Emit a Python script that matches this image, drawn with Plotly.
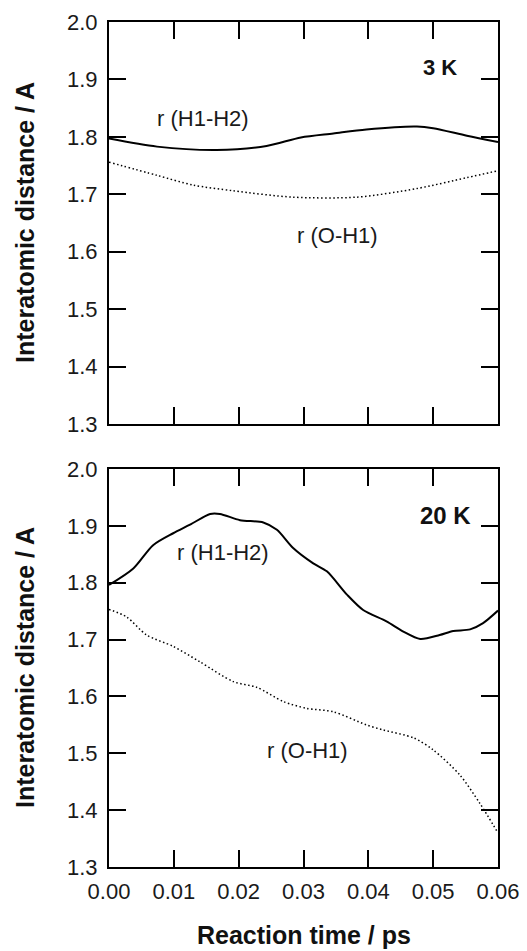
import plotly.graph_objects as go

# ---- data ----
t_hh_3K = [0.0, 0.0074, 0.0166, 0.0243, 0.0296, 0.0346, 0.0397, 0.0475, 0.050, 0.0552, 0.060]
r_hh_3K = [1.797, 1.783, 1.777, 1.784, 1.799, 1.806, 1.813, 1.818, 1.815, 1.802, 1.791]

t_oh_3K = [0.0, 0.0074, 0.013, 0.0192, 0.0284, 0.0382, 0.0475, 0.0552, 0.060]
r_oh_3K = [1.756, 1.733, 1.716, 1.706, 1.695, 1.695, 1.710, 1.729, 1.741]

t_hh_20K = [0.0, 0.00375, 0.0068, 0.0099, 0.0125, 0.0156, 0.0171, 0.0202, 0.0238, 0.0259,
            0.0284, 0.0315, 0.0336, 0.0367, 0.0392, 0.0428, 0.0454, 0.048, 0.051, 0.0531,
            0.0557, 0.0577, 0.060]
r_hh_20K = [1.796, 1.825, 1.866, 1.887, 1.902, 1.921, 1.921, 1.910, 1.906, 1.893,
            1.861, 1.834, 1.820, 1.779, 1.752, 1.732, 1.714, 1.701, 1.708, 1.715,
            1.718, 1.729, 1.751]

t_oh_20K = [0.0, 0.0027, 0.0058, 0.0099, 0.014, 0.0192, 0.0228, 0.0269, 0.0305, 0.0346,
            0.0397, 0.0423, 0.047, 0.050, 0.0541, 0.0572, 0.060]
r_oh_20K = [1.753, 1.740, 1.708, 1.688, 1.661, 1.626, 1.616, 1.591, 1.579, 1.573,
            1.550, 1.541, 1.527, 1.506, 1.462, 1.412, 1.360]

x_ticks = [0.0, 0.01, 0.02, 0.03, 0.04, 0.05, 0.06]
x_ticklabels = ["0.00", "0.01", "0.02", "0.03", "0.04", "0.05", "0.06"]
y_ticks = [1.3, 1.4, 1.5, 1.6, 1.7, 1.8, 1.9, 2.0]
y_ticklabels = ["1.3", "1.4", "1.5", "1.6", "1.7", "1.8", "1.9", "2.0"]

W, H = 527, 951
FONT = "Liberation Sans, Arial, Helvetica, sans-serif"

fig = go.Figure()

solid = dict(color="black", width=2, shape="spline", smoothing=0.8)
dotted = dict(color="black", width=1.5, dash="1.5px,2.5px", shape="spline", smoothing=0.8)

fig.add_trace(go.Scatter(x=t_hh_3K, y=r_hh_3K, mode="lines", line=solid, xaxis="x", yaxis="y"))
fig.add_trace(go.Scatter(x=t_oh_3K, y=r_oh_3K, mode="lines", line=dotted, xaxis="x", yaxis="y"))
fig.add_trace(go.Scatter(x=t_hh_20K, y=r_hh_20K, mode="lines", line=solid, xaxis="x2", yaxis="y2"))
fig.add_trace(go.Scatter(x=t_oh_20K, y=r_oh_20K, mode="lines", line=dotted, xaxis="x2", yaxis="y2"))

xdom = [109 / W, 498 / W]
ydom_top = [1 - 424 / H, 1 - 22 / H]
ydom_bot = [1 - 867 / H, 1 - 469 / H]

tickfont = dict(family=FONT, size=22, color="#1a1a1a")
common_x = dict(range=[0, 0.06], tickvals=x_ticks, ticktext=x_ticklabels, ticks="inside",
                ticklen=17, tickwidth=2, tickcolor="black", showline=True, linecolor="black",
                linewidth=2, mirror="ticks", showgrid=False, zeroline=False, domain=xdom,
                tickfont=tickfont, automargin=False)
common_y = dict(range=[1.3, 2.0], tickvals=y_ticks, ticktext=y_ticklabels, ticks="inside",
                ticklen=17, tickwidth=2, tickcolor="black", showline=True, linecolor="black",
                linewidth=2, mirror="ticks", showgrid=False, zeroline=False,
                tickfont=tickfont, ticklabelstandoff=5, automargin=False)

fig.update_layout(
    template="none",
    width=W, height=H, margin=dict(l=0, r=0, t=0, b=0, pad=0, autoexpand=False),
    paper_bgcolor="white", plot_bgcolor="white", showlegend=False,
    xaxis=dict(**common_x, anchor="y", showticklabels=False),
    yaxis=dict(**common_y, anchor="x", domain=ydom_top),
    xaxis2=dict(**common_x, anchor="y2", showticklabels=True, ticklabelstandoff=4),
    yaxis2=dict(**common_y, anchor="x2", domain=ydom_bot),
)

ann_font = dict(family=FONT, size=22, color="#1a1a1a")
title_font = dict(family=FONT, size=25, color="#111")

annotations = [
    dict(text="<b>3 K</b>", x=440 / W, y=1 - 67 / H, font=dict(family=FONT, size=22, color="#111")),
    dict(text="r (H1-H2)", x=203 / W, y=1 - 118 / H, font=ann_font),
    dict(text="r (O-H1)", x=337 / W, y=1 - 235 / H, font=ann_font),
    dict(text="<b>20 K</b>", x=445 / W, y=1 - 515 / H, font=dict(family=FONT, size=24, color="#111")),
    dict(text="r (H1-H2)", x=223 / W, y=1 - 552 / H, font=ann_font),
    dict(text="r (O-H1)", x=307 / W, y=1 - 750 / H, font=ann_font),
    dict(text="<b>Interatomic distance / A</b>", x=25 / W, y=1 - 223 / H, textangle=-90,
         font=title_font),
    dict(text="<b>Interatomic distance / A</b>", x=25 / W, y=1 - 668 / H, textangle=-90,
         font=title_font),
]
for a in annotations:
    a.update(xref="paper", yref="paper", showarrow=False, xanchor="center", yanchor="middle")
annotations.append(dict(text="<b>Reaction time / ps</b>", x=303.5 / W, y=1 / H, xref="paper",
                        yref="paper", showarrow=False, xanchor="center", yanchor="bottom",
                        font=title_font, borderpad=0))
fig.update_layout(annotations=annotations)

fig.write_html("out.html")
